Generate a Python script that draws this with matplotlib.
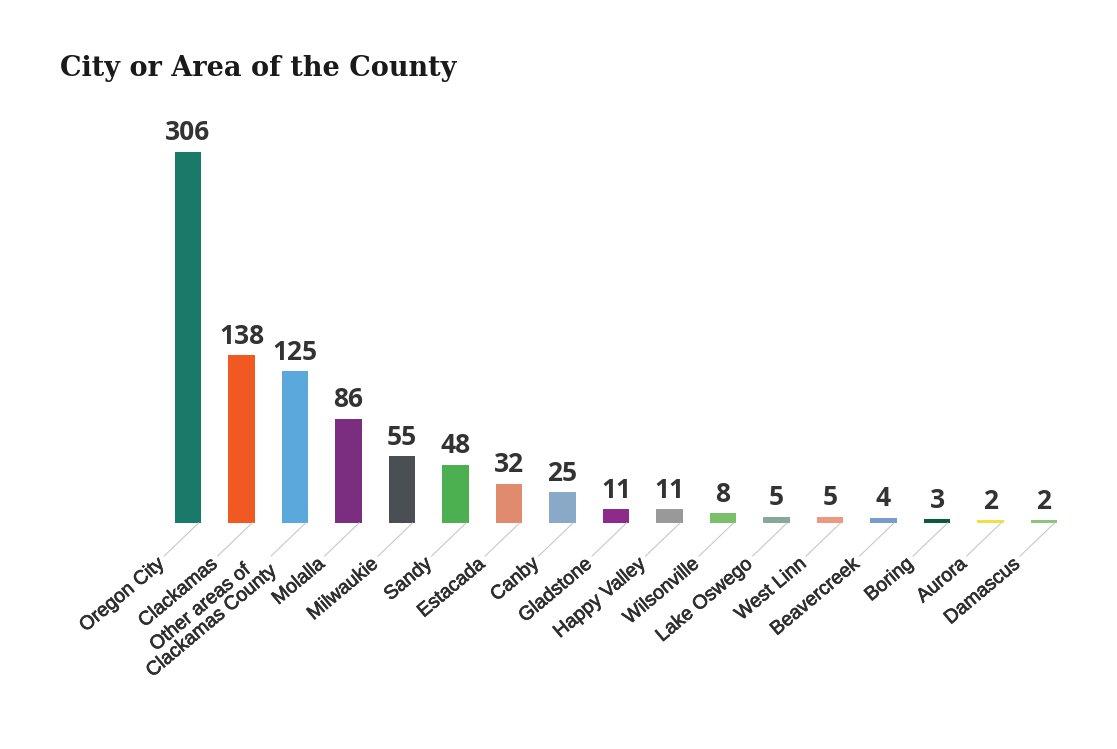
import matplotlib.pyplot as plt
import matplotlib.patheffects as pe

# données
villes = ["Oregon City", "Clackamas", "Other areas of\nClackamas County", "Molalla",
          "Milwaukie", "Sandy", "Estacada", "Canby", "Gladstone", "Happy Valley",
          "Wilsonville", "Lake Oswego", "West Linn", "Beavercreek", "Boring",
          "Aurora", "Damascus"]
valeurs = [306, 138, 125, 86, 55, 48, 32, 25, 11, 11, 8, 5, 5, 4, 3, 2, 2]
couleurs = ["#1a7a6a", "#f05a22", "#5aa8dc", "#7b2d80", "#4a4f54", "#4caf50",
            "#e08a6e", "#8aa9c8", "#8e2a8a", "#999999", "#7bbf6a", "#88a898",
            "#eb9a80", "#7a9ccc", "#0b5a3a", "#f2e040", "#8cc47a"]

fig = plt.figure(figsize=(11.17, 7.49), dpi=100)
ax = fig.add_axes([0.1444, 0.302, 0.8142, 0.4953])

x = list(range(len(villes)))
ax.bar(x, valeurs, width=0.5, color=couleurs)
ax.set_xlim(-0.5, len(villes) - 0.5)
ax.set_ylim(0, 306)

for xi, v, nom in zip(x, valeurs, villes):
    ax.annotate(str(v), xy=(xi, v), xytext=(0, 4), textcoords="offset points",
                ha="center", va="bottom", fontsize=19, fontweight="bold",
                color="#333333", family="Open Sans")
    # trait gris vers l'étiquette
    ax.annotate("", xy=(xi + 0.2, 0), xytext=(-25, -24), textcoords="offset points",
                arrowprops=dict(arrowstyle="-", color="#c8c8c8", lw=0.8,
                                shrinkA=0, shrinkB=0))
    ax.annotate(nom, xy=(xi + 0.2, 0), xytext=(-26, -28), textcoords="offset points",
                rotation=40, rotation_mode="anchor", ha="right", va="center",
                multialignment="center", fontsize=14, color="#2e2e2e",
                family="Liberation Sans", linespacing=1.05,
                path_effects=[pe.withStroke(linewidth=0.5, foreground="#2e2e2e")])

ax.axis("off")

fig.text(0.054, 1 - 68 / 749, "City or Area of the County", fontsize=19.5,
         fontweight="bold", family="DejaVu Serif", color="#1a1a1a", va="center")

fig.savefig("out.png", dpi=100, facecolor="white")
